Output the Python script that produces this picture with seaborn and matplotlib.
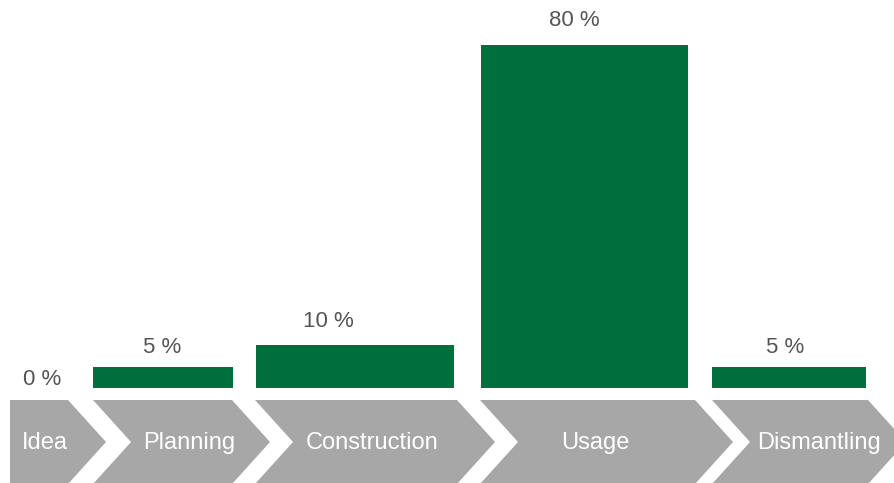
import matplotlib
matplotlib.use("Agg")
import matplotlib.pyplot as plt
from matplotlib.patches import Polygon
import pandas as pd
import seaborn as sns

# Life-cycle stages and their share of total cost
stages = ["Idea", "Planning", "Construction", "Usage", "Dismantling"]
shares = [0, 5, 10, 80, 5]
value_labels = ["0 %", "5 %", "10 %", "80 %", "5 %"]

# Layout (pixel units across the figure)
bar_left = [10, 93, 256, 481, 712]
bar_right = [68, 233, 454, 688, 866]
value_label_x = [42, 162, 328, 574, 785]
value_label_gap = [3, 14, 18, 19, 14]
arrow_left = [10, 93, 255, 480, 712]
arrow_right = [68, 232, 457, 695, 868]
arrow_depth = 38
stage_text_x = [45, 189, 372, 595, 819]

GREEN = "#006f3e"
GREY = "#a7a7a7"
TEXT = "#555555"

sns.set_theme(style="white")
plt.rcParams["font.family"] = ["Liberation Sans", "DejaVu Sans"]

W, H = 895, 483
BASE = 388      # baseline of the bars (pixels from top)
TOP80 = 45      # top of an 80 % bar (pixels from top)

fig = plt.figure(figsize=(W / 100, H / 100), dpi=100)
fig.patch.set_facecolor("white")
ax = fig.add_axes([0, 0, 1, 1])

centers = [(l + r) / 2 for l, r in zip(bar_left, bar_right)]
df = pd.DataFrame({"x": centers, "share": shares, "stage": stages})
sns.barplot(data=df, x="x", y="share", native_scale=True, color=GREEN,
            saturation=1, errorbar=None, linewidth=0, ax=ax)
for patch, l, r in zip(ax.patches, bar_left, bar_right):
    patch.set_x(l)
    patch.set_width(r - l)

px_per_pct = (BASE - TOP80) / 80
ax.set_xlim(0, W)
ax.set_ylim(-(H - BASE) / px_per_pct, 80 + TOP80 / px_per_pct)
ax.axis("off")

for x, v, lab, gap in zip(value_label_x, shares, value_labels, value_label_gap):
    ax.annotate(lab, xy=(x, v), xytext=(0, gap * 0.72), textcoords="offset points",
                ha="center", va="baseline", fontsize=16, color=TEXT)

# Process chevrons along the bottom
cax = fig.add_axes([0, (H - 484) / H, 1, 84 / H])
cax.set_xlim(0, W)
cax.set_ylim(484, 400)
cax.axis("off")
cax.patch.set_alpha(0)
mid = 442
for i, (l, r) in enumerate(zip(arrow_left, arrow_right)):
    pts = [(l, 400), (r, 400), (r + arrow_depth, mid), (r, 484), (l, 484)]
    if i > 0:
        pts.append((l + arrow_depth, mid))
    cax.add_patch(Polygon(pts, closed=True, facecolor=GREY, edgecolor="none"))
for x, name in zip(stage_text_x, stages):
    cax.text(x, 449, name, ha="center", va="baseline", fontsize=17, color="white")

fig.savefig("out.png", dpi=100, facecolor="white")
